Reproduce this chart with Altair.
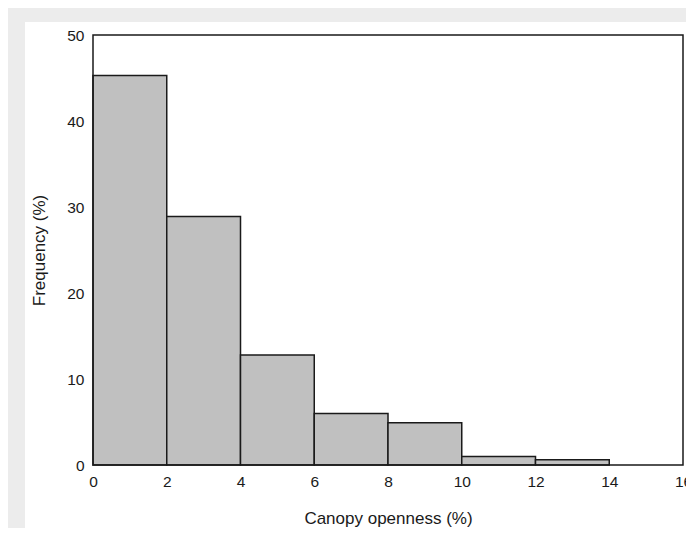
import altair as alt
import pandas as pd

bin_start = [0, 2, 4, 6, 8, 10, 12]
bin_end = [2, 4, 6, 8, 10, 12, 14]
frequency = [45.3, 28.9, 12.8, 6.0, 4.9, 1.0, 0.6]

df = pd.DataFrame({"start": bin_start, "end": bin_end, "freq": frequency})

W, H = 590, 430
one = pd.DataFrame({"a": [0]})

bg = alt.Chart(one).mark_rect(color="white").encode(
    x=alt.value(-68), x2=alt.value(W + 20), y=alt.value(-13), y2=alt.value(498)
)

bars = alt.Chart(df).mark_rect(fill="#c0c0c0", stroke="#1a1a1a", strokeWidth=1.5).encode(
    x=alt.X("start:Q", scale=alt.Scale(domain=[0, 16], nice=False),
            axis=alt.Axis(values=[0, 2, 4, 6, 8, 10, 12, 14, 16], title="Canopy openness (%)",
                          labelFlush=False, labelOverlap=False, zindex=2)),
    x2="end:Q",
    y=alt.Y("freq:Q", scale=alt.Scale(domain=[0, 50], nice=False),
            axis=alt.Axis(values=[0, 10, 20, 30, 40, 50], title="Frequency (%)", zindex=2)),
    y2=alt.datum(0),
)

frame = alt.Chart(one).mark_rect(fill=None, stroke="#1a1a1a", strokeWidth=1.5).encode(
    x=alt.value(0), x2=alt.value(W), y=alt.value(0), y2=alt.value(H)
)

chart = alt.layer(bg, bars, frame).properties(
    width=W, height=H,
    autosize=alt.AutoSizeParams(type="none"),
    padding={"left": 85, "top": 27, "right": 3, "bottom": 63},
    background="#ececec",
).configure_view(
    stroke=None
).configure_axis(
    grid=False, ticks=False, domain=False,
    labelFont="Liberation Sans", labelFontSize=15.5, labelColor="#1a1a1a",
    titleFont="Liberation Sans", titleFontSize=17, titleColor="#1a1a1a", titleFontWeight="normal",
).configure_axisX(
    labelPadding=9, titlePadding=21,
).configure_axisY(
    labelPadding=9, titlePadding=18,
)

chart.save("out.html", embed_options={"renderer": "svg", "actions": False})
